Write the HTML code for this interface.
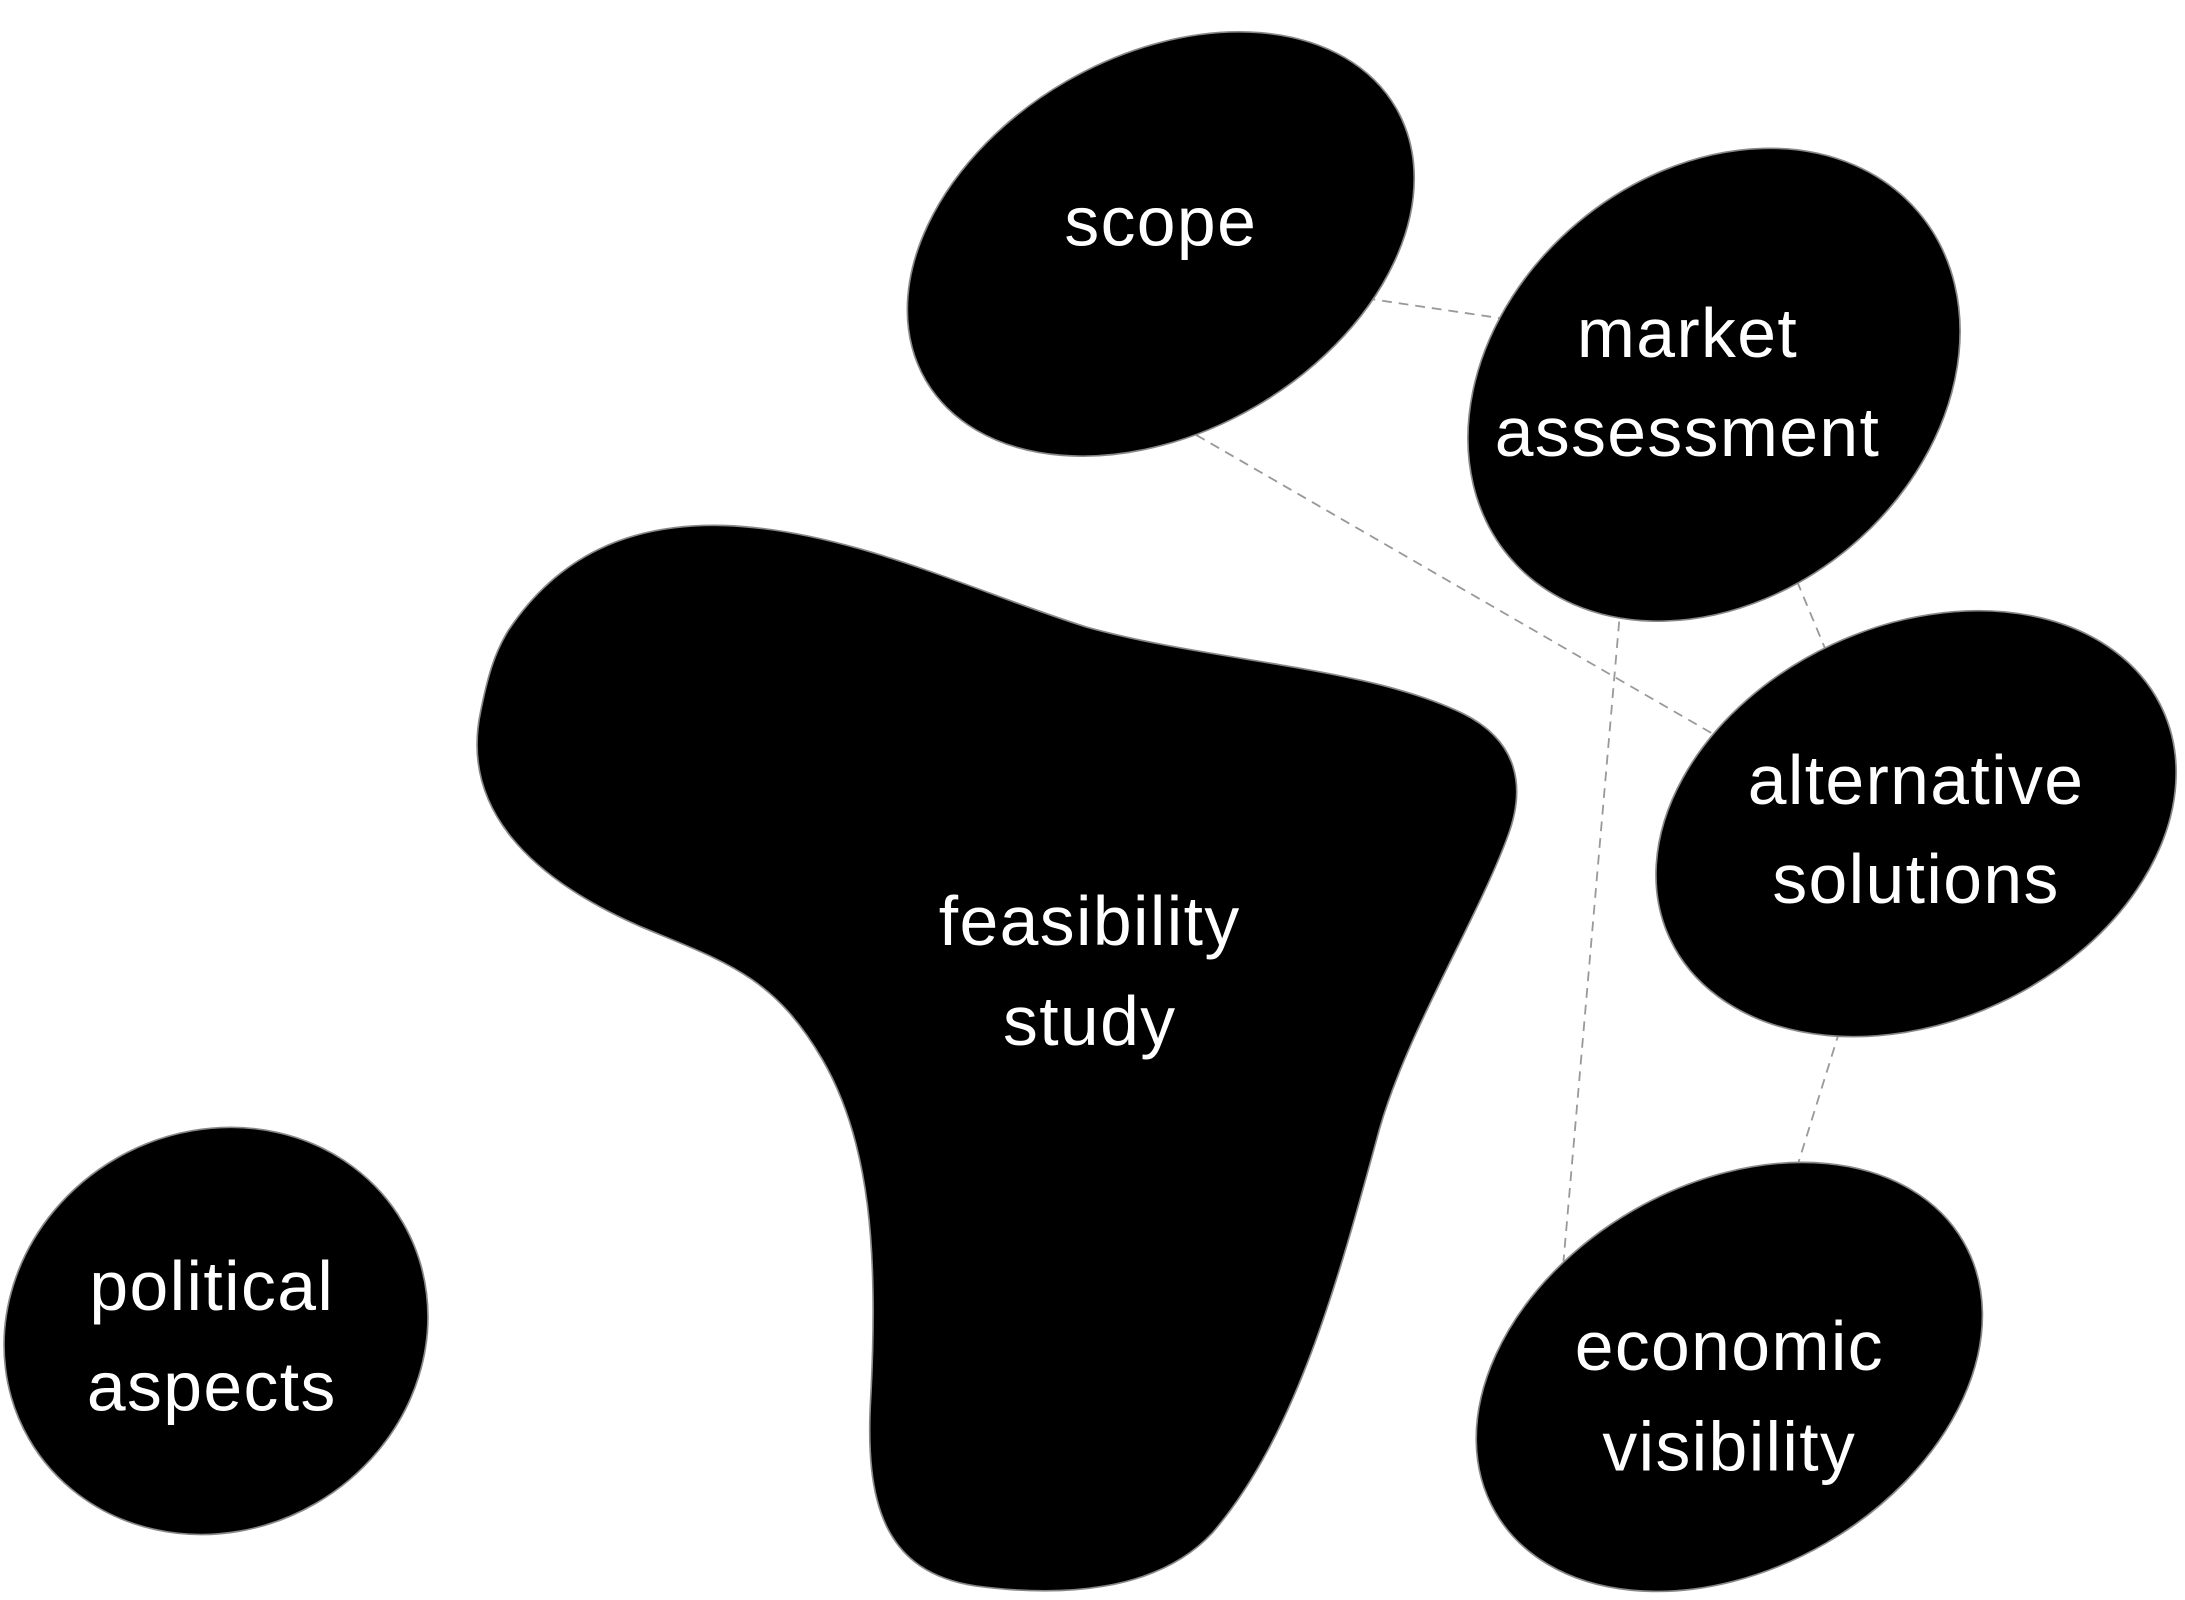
<!DOCTYPE html>
<html><head><meta charset="utf-8"><style>
html,body{margin:0;padding:0;background:#fff;width:2185px;height:1600px;overflow:hidden;}
svg{display:block;}
text{font-family:"Liberation Sans",sans-serif;fill:#fff;font-size:50px;text-anchor:middle;font-weight:normal;letter-spacing:1px;}
</style></head><body>
<svg width="2185" height="1600" viewBox="0 0 1568 1148" xmlns="http://www.w3.org/2000/svg">
<g stroke="#999" stroke-width="1.3" stroke-dasharray="7,5" fill="none">
<line x1="980" y1="214" x2="1082" y2="229"/>
<line x1="848" y1="306" x2="1230" y2="527"/>
<line x1="1285" y1="406" x2="1310" y2="466"/>
<line x1="1163" y1="434" x2="1122" y2="905"/>
<line x1="1320" y1="740" x2="1290" y2="836"/>
</g>
<g fill="#000" stroke="#888" stroke-width="1.2">
<ellipse cx="833" cy="175" rx="195" ry="135" transform="rotate(-30 833 175)"/>
<ellipse cx="1230" cy="276" rx="192" ry="152" transform="rotate(-40 1230 276)"/>
<ellipse cx="1375" cy="591" rx="195" ry="142" transform="rotate(-25 1375 591)"/>
<ellipse cx="1241" cy="988" rx="194" ry="138" transform="rotate(-30 1241 988)"/>
<ellipse cx="155" cy="955" rx="155" ry="143" transform="rotate(-30 155 955)"/>
<path d="M365,452 C400,400 450,375 520,377 C610,380 700,425 780,450 C870,475 980,478 1050,512 C1090,532 1095,565 1082,600 C1060,660 1010,740 990,810 C960,920 930,1030 870,1100 C830,1143 760,1146 700,1138 C635,1128 620,1080 625,1000 C630,900 625,820 590,760 C555,700 520,690 460,665 C380,630 330,580 345,510 C350,485 355,468 365,452 Z"/>
</g>
<text x="833" y="176">scope</text>
<text x="1211" y="256">market</text>
<text x="1211" y="327">assessment</text>
<text x="1375" y="577">alternative</text>
<text x="1375" y="648">solutions</text>
<text x="1241" y="983">economic</text>
<text x="1241" y="1055">visibility</text>
<text x="152" y="940">political</text>
<text x="152" y="1012">aspects</text>
<text x="782" y="678">feasibility</text>
<text x="782" y="750">study</text>
</svg>
</body></html>
